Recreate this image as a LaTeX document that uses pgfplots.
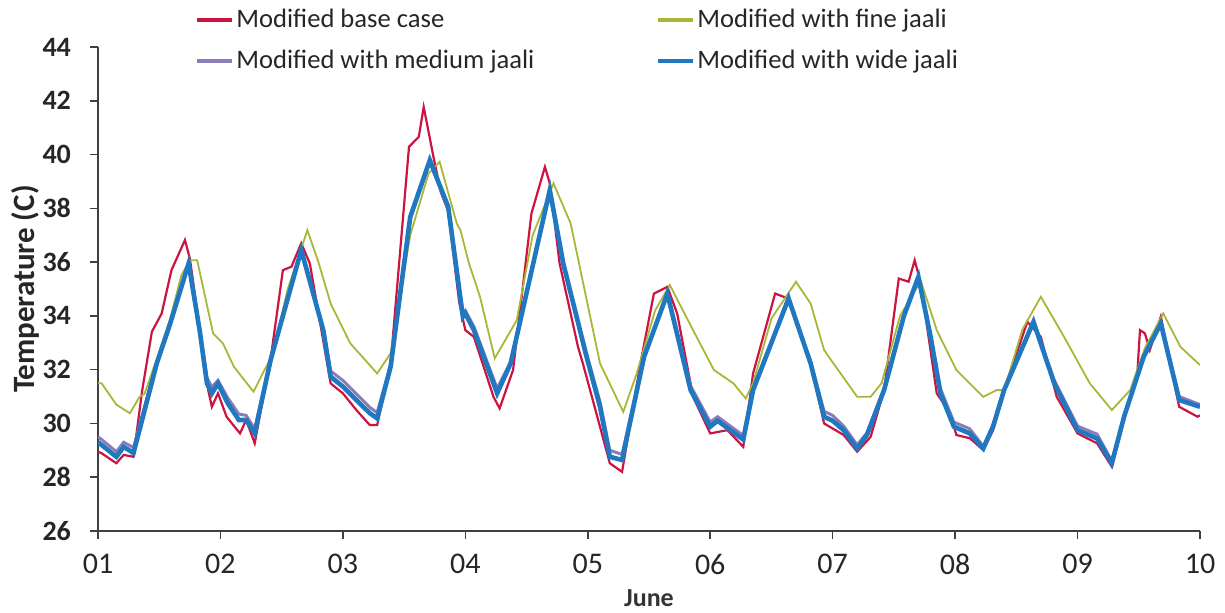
\documentclass[border=0pt]{standalone}
\usepackage{pgfplots}
\pgfplotsset{compat=1.18}
\usepackage{fontspec}
\setmainfont{Carlito}
\definecolor{cbase}{RGB}{205,20,65}
\definecolor{cfine}{RGB}{170,182,55}
\definecolor{cmed}{RGB}{140,125,185}
\definecolor{cwide}{RGB}{32,120,192}
\begin{document}
\begin{tikzpicture}
\useasboundingbox (-49pt,-40.5pt) rectangle (563.5pt,265.5pt);
\begin{axis}[
  at={(0pt,0pt)}, anchor=south west,
  scale only axis,
  width=551pt, height=242pt,
  xmin=1, xmax=10, ymin=26, ymax=44,
  xtick={1,2,3,4,5,6,7,8,9,10},
  xticklabels={01,02,03,04,05,06,07,08,09,10},
  ytick={26,28,30,32,34,36,38,40,42,44},
  axis x line*=bottom, axis y line*=left,
  axis line style={black!75, line width=0.8pt},
  tick style={black!75, line width=0.8pt},
  tick align=outside, major tick length=4pt,
  /pgf/number format/assume math mode=true,
  xticklabel style={font=\fontsize{15}{17}\selectfont, text=black!85, yshift=-4pt},
  yticklabel style={font=\fontsize{14}{16}\selectfont\bfseries, text=black!85, xshift=-6pt},
  yticklabel={\textbf{\pgfmathprintnumber{\tick}}},
  xlabel={\textbf{June}},
  xlabel style={font=\fontsize{13}{15}\selectfont, text=black!80,
    at={(axis description cs:0.5,0)}, anchor=north, yshift=-26pt},
  ylabel={\textbf{Temperature (C)}},
  ylabel style={font=\fontsize{15.5}{17}\selectfont, text=black!85,
    at={(axis description cs:0,0.5)}, anchor=center, yshift=36.5pt},
  legend columns=2,
  legend cell align=left,
  legend style={draw=none, fill=none, at={(0.088,1.088)}, anchor=north west,
    inner sep=0pt,
    font=\fontsize{13.3}{15}\selectfont, text=black!85,
    nodes={inner xsep=1pt, inner ysep=2pt},
    /tikz/every even column/.append style={column sep=60pt},
    row sep=6pt},
  legend image code/.code={\draw[#1, line width=2pt] (0pt,0pt) -- (17.5pt,0pt);},
  clip=true,
]
\addplot[cbase, line width=1.1pt] coordinates {
(1.00,28.95)(1.03,28.89)(1.15,28.52)(1.21,28.83)(1.29,28.76)(1.36,31.2)(1.44,33.41)(1.52,34.09)(1.60,35.70)(1.71,36.82)(1.75,36.14)(1.90,31.24)(1.93,30.62)(1.98,31.12)(2.05,30.25)(2.16,29.63)(2.21,30.13)(2.28,29.26)(2.42,32.73)(2.51,35.70)(2.58,35.83)(2.66,36.70)(2.73,35.95)(2.90,31.49)(3.00,31.12)(3.11,30.50)(3.22,29.94)(3.28,29.94)(3.39,32.23)(3.54,40.29)(3.62,40.66)(3.66,41.77)(3.74,39.91)(3.80,38.6)(3.86,37.9)(3.95,34.5)(4.00,33.47)(4.07,33.22)(4.23,30.99)(4.28,30.56)(4.39,31.99)(4.54,37.81)(4.65,39.54)(4.69,38.93)(4.77,35.95)(4.92,32.85)(4.96,32.23)(5.07,30.38)(5.18,28.52)(5.28,28.20)(5.43,32.23)(5.54,34.83)(5.65,35.08)(5.73,34.09)(5.86,30.99)(6.00,29.63)(6.14,29.75)(6.27,29.13)(6.35,31.86)(6.53,34.83)(6.60,34.71)(6.65,34.59)(6.82,32.23)(6.93,30.00)(7.09,29.57)(7.20,28.95)(7.31,29.50)(7.42,31.24)(7.54,35.39)(7.62,35.27)(7.67,36.07)(7.72,35.21)(7.85,31.12)(7.96,30.38)(8.01,29.57)(8.12,29.45)(8.23,29.01)(8.31,29.75)(8.40,31.24)(8.59,33.78)(8.70,33.22)(8.83,30.99)(9.00,29.63)(9.16,29.26)(9.28,28.39)(9.38,30.13)(9.49,31.99)(9.51,33.47)(9.55,33.35)(9.59,32.73)(9.68,33.97)(9.83,30.62)(9.98,30.25)(10.0,30.3)
};
\addlegendentry{Modified base case}
\addplot[cfine, line width=0.9pt] coordinates {
(1.00,31.5)(1.03,31.49)(1.15,30.7)(1.26,30.38)(1.34,30.99)(1.38,31.1)(1.48,32.4)(1.59,33.9)(1.68,35.5)(1.75,36.07)(1.81,36.07)(1.94,33.35)(2.02,32.98)(2.11,32.11)(2.27,31.18)(2.36,31.99)(2.42,32.5)(2.55,35.0)(2.71,37.19)(2.80,36.0)(2.90,34.46)(3.06,32.98)(3.28,31.86)(3.39,32.61)(3.55,37.0)(3.70,39.3)(3.79,39.73)(3.93,37.44)(3.96,37.19)(4.03,35.95)(4.12,34.71)(4.24,32.42)(4.42,33.84)(4.55,37.0)(4.72,38.93)(4.86,37.44)(5.10,32.23)(5.29,30.43)(5.40,31.86)(5.55,34.2)(5.67,35.15)(5.86,33.47)(6.03,31.99)(6.19,31.49)(6.29,30.93)(6.35,31.5)(6.50,33.9)(6.70,35.27)(6.82,34.46)(6.93,32.73)(6.98,32.4)(7.09,31.7)(7.20,30.99)(7.31,30.99)(7.40,31.5)(7.55,34.0)(7.72,35.3)(7.85,33.47)(8.01,31.99)(8.23,30.99)(8.34,31.24)(8.40,31.24)(8.55,33.5)(8.70,34.71)(8.89,33.22)(9.10,31.49)(9.28,30.50)(9.43,31.24)(9.55,32.8)(9.70,34.09)(9.84,32.85)(10.0,32.17)
};
\addlegendentry{Modified with fine jaali}
\addplot[cmed, line width=1.5pt] coordinates {
(1.00,29.5)(1.03,29.4)(1.15,28.95)(1.21,29.3)(1.29,29.1)(1.48,32.3)(1.59,33.75)(1.74,35.95)(1.83,33.5)(1.89,31.7)(1.93,31.35)(1.98,31.6)(2.06,30.95)(2.15,30.35)(2.21,30.3)(2.28,29.8)(2.41,32.4)(2.66,36.4)(2.84,33.5)(2.90,31.95)(3.00,31.6)(3.11,31.1)(3.22,30.6)(3.28,30.4)(3.39,32.2)(3.55,37.6)(3.71,39.75)(3.86,38.0)(3.98,34.1)(4.00,34.2)(4.07,33.6)(4.26,31.3)(4.37,32.3)(4.69,38.6)(4.80,35.95)(4.99,32.6)(5.10,30.8)(5.18,29.0)(5.28,28.85)(5.46,32.5)(5.65,34.8)(5.84,31.4)(6.00,30.05)(6.06,30.25)(6.27,29.55)(6.35,31.3)(6.64,34.6)(6.82,32.3)(6.93,30.45)(7.00,30.3)(7.09,29.9)(7.20,29.2)(7.28,29.65)(7.42,31.3)(7.58,34.0)(7.70,35.4)(7.80,33.3)(7.88,31.3)(7.99,30.05)(8.12,29.8)(8.23,29.15)(8.31,29.95)(8.40,31.3)(8.64,33.75)(8.81,31.6)(9.00,29.9)(9.16,29.6)(9.28,28.6)(9.38,30.3)(9.54,32.5)(9.68,33.7)(9.83,31.0)(10.0,30.7)
};
\addlegendentry{Modified with medium jaali}
\addplot[cwide, line width=2.3pt] coordinates {
(1.00,29.3)(1.03,29.20)(1.15,28.76)(1.21,29.13)(1.29,28.9)(1.48,32.23)(1.59,33.72)(1.74,35.95)(1.83,33.47)(1.89,31.49)(1.93,31.12)(1.98,31.49)(2.06,30.75)(2.15,30.13)(2.21,30.13)(2.28,29.63)(2.41,32.36)(2.66,36.45)(2.84,33.47)(2.90,31.74)(3.00,31.37)(3.11,30.87)(3.22,30.38)(3.28,30.19)(3.39,32.11)(3.55,37.68)(3.71,39.79)(3.86,38.06)(3.98,33.97)(4.00,34.09)(4.07,33.47)(4.26,31.12)(4.37,32.23)(4.69,38.68)(4.80,35.95)(4.99,32.48)(5.10,30.62)(5.18,28.76)(5.28,28.64)(5.46,32.48)(5.65,34.83)(5.84,31.24)(6.00,29.88)(6.06,30.1)(6.27,29.4)(6.35,31.24)(6.64,34.65)(6.82,32.23)(6.93,30.25)(7.00,30.1)(7.09,29.75)(7.20,29.07)(7.28,29.57)(7.42,31.24)(7.58,33.97)(7.70,35.45)(7.80,33.22)(7.88,31.12)(7.99,29.88)(8.12,29.63)(8.23,29.07)(8.31,29.88)(8.40,31.24)(8.64,33.78)(8.81,31.49)(9.00,29.75)(9.16,29.44)(9.28,28.52)(9.38,30.25)(9.54,32.48)(9.68,33.72)(9.83,30.87)(10.0,30.62)
};
\addlegendentry{Modified with wide jaali}
\end{axis}
\end{tikzpicture}
\end{document}
